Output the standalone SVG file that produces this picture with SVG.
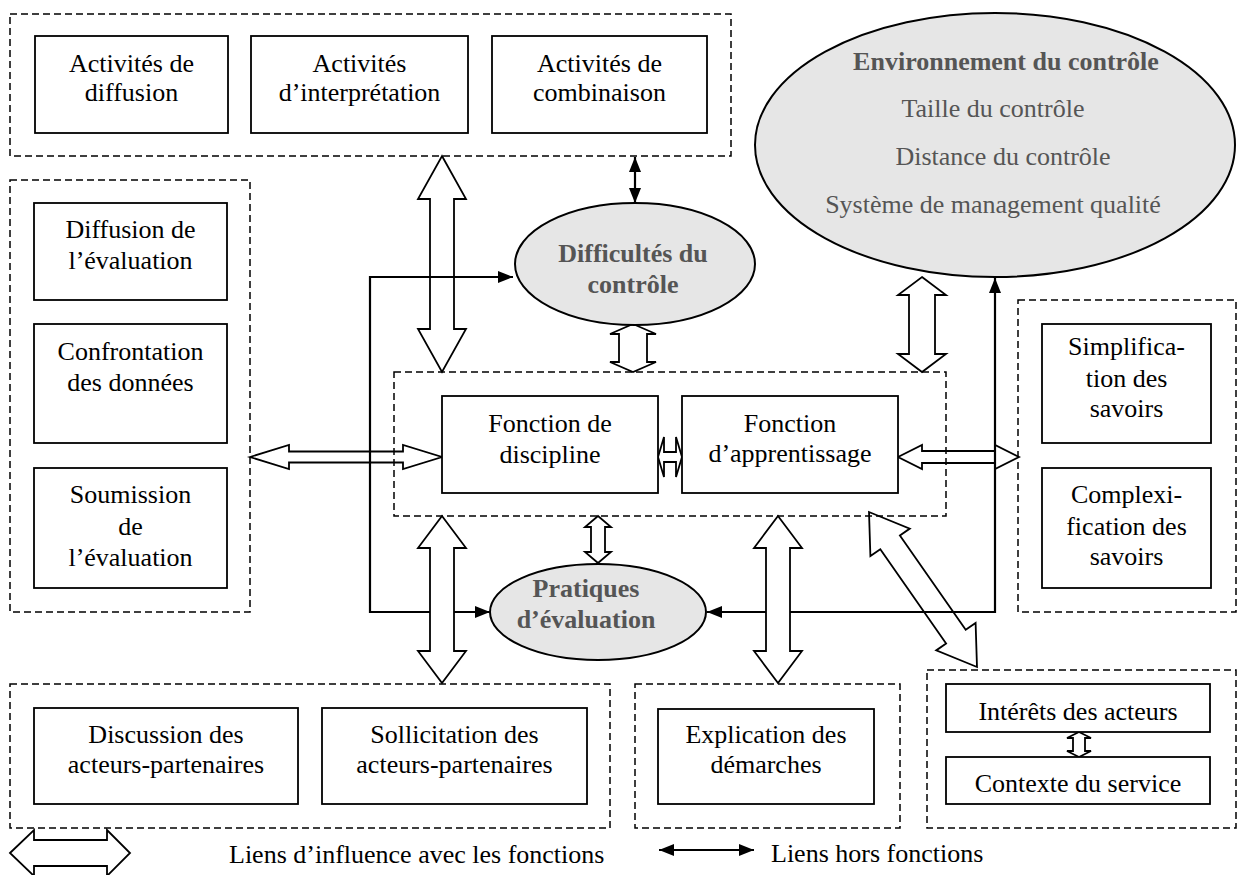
<svg xmlns="http://www.w3.org/2000/svg" width="1239" height="875" viewBox="0 0 1239 875">
<style>
text{font-family:"Liberation Serif","Times New Roman",serif;font-size:26px;fill:#000;text-anchor:middle}
.gt{fill:#555;font-weight:bold}
.gr{fill:#555}
.dash{fill:none;stroke:#000;stroke-width:1.5;stroke-dasharray:7,4}
.box{fill:#fff;stroke:#000;stroke-width:1.8}
.ell{fill:#e6e6e6;stroke:#000;stroke-width:2}
.wa{fill:#fff;stroke:#000;stroke-width:1.8;stroke-linejoin:miter}
.bl{fill:none;stroke:#000;stroke-width:2.2}
</style>
<defs>
<marker id="ah" viewBox="0 0 10 10" refX="10" refY="5" markerWidth="15" markerHeight="12" markerUnits="userSpaceOnUse" orient="auto-start-reverse" preserveAspectRatio="none">
<path d="M0,0 L10,5 L0,10 z" fill="#000"/>
</marker>
</defs>
<rect width="1239" height="875" fill="#fff"/>

<g id="connectors">
<polygon class="wa" points="442,156 466,199 454,199 454,329 466,329 442,372 418,329 430,329 430,199 418,199"/>
<polygon class="wa" points="633,324 656,334 647,334 647,362 656,362 633,372 610,362 619,362 619,334 610,334"/>
<polygon class="wa" points="922,277 946,295 935,295 935,354 946,354 922,372 898,354 909,354 909,295 898,295"/>
<polygon class="wa" points="598,516 611,527 605,527 605,552 611,552 598,563 585,552 591,552 591,527 585,527"/>
<polygon class="wa" points="250,457 289,445 289,451.5 403,451.5 403,445 442,457 403,469 403,462.5 289,462.5 289,469"/>
<polygon class="wa" points="898,457 922,445 922,451 995,451 995,445 1019,457 995,469 995,463 922,463 922,469"/>
<polygon class="wa" points="658,457 664,437 664,452 676,452 676,437 682,457 676,477 676,462 664,462 664,477"/>
<polygon class="wa" points="869,512 870.4,556 880.3,549.2 946.1,643.6 936.2,650.4 977,667 975.6,623 965.7,629.8 899.9,535.4 909.8,528.6"/>
<polygon class="wa" points="1079,732 1091,738 1085,738 1085,751 1091,751 1079,757 1067,751 1073,751 1073,738 1067,738"/>
<path class="bl" d="M635,157 L635,203" marker-start="url(#ah)" marker-end="url(#ah)"/>
<path class="bl" d="M513,277 L370,277 L370,612 L490,612" marker-start="url(#ah)" marker-end="url(#ah)"/>
<path class="bl" d="M995,278 L995,612 L707,612" marker-start="url(#ah)" marker-end="url(#ah)"/>
<polygon class="wa" points="442,516 466,548 454,548 454,651 466,651 442,683 418,651 430,651 430,548 418,548"/>
<polygon class="wa" points="778,516 802,548 790,548 790,651 802,651 778,683 754,651 766,651 766,548 754,548"/>
</g>

<g id="activites">
<rect class="dash" x="10" y="14" width="721" height="142"/>
<rect class="box" x="35" y="36" width="193" height="97"/>
<text x="131.5" y="72">Activités de</text><text x="131.5" y="101">diffusion</text>
<rect class="box" x="251" y="36" width="217" height="97"/>
<text x="359.5" y="72">Activités</text><text x="359.5" y="101">d’interprétation</text>
<rect class="box" x="492" y="36" width="215" height="97"/>
<text x="599.5" y="72">Activités de</text><text x="599.5" y="101">combinaison</text>
</g>

<g id="evaluation-left">
<rect class="dash" x="10" y="180" width="240" height="432"/>
<rect class="box" x="34" y="203" width="193" height="97"/>
<text x="130.5" y="238">Diffusion de</text><text x="130.5" y="269">l’évaluation</text>
<rect class="box" x="34" y="324" width="193" height="119"/>
<text x="130.5" y="360">Confrontation</text><text x="130.5" y="391">des données</text>
<rect class="box" x="34" y="468" width="193" height="120"/>
<text x="130.5" y="503">Soumission</text><text x="130.5" y="535">de</text><text x="130.5" y="566">l’évaluation</text>
</g>

<g id="fonctions">
<rect class="dash" x="394" y="372" width="552" height="144"/>
<rect class="box" x="442" y="396" width="216" height="97"/>
<text x="550" y="432">Fonction de</text><text x="550" y="463">discipline</text>
<rect class="box" x="682" y="396" width="216" height="97"/>
<text x="790" y="432">Fonction</text><text x="790" y="462">d’apprentissage</text>
</g>

<g id="difficultes">
<ellipse class="ell" cx="635" cy="264" rx="120" ry="61"/>
<text class="gt" x="633" y="262">Difficultés du</text><text class="gt" x="633" y="293">contrôle</text>
</g>

<g id="pratiques">
<ellipse class="ell" cx="598" cy="612" rx="108" ry="48"/>
<text class="gt" x="586" y="597">Pratiques</text><text class="gt" x="586" y="628">d’évaluation</text>
</g>

<g id="environnement">
<ellipse class="ell" cx="995" cy="145" rx="240" ry="132"/>
<text class="gt" x="1006" y="70">Environnement du contrôle</text>
<text class="gr" x="993" y="117">Taille du contrôle</text>
<text class="gr" x="1003" y="165">Distance du contrôle</text>
<text class="gr" x="993" y="213">Système de management qualité</text>
</g>

<g id="savoirs">
<rect class="dash" x="1018" y="300" width="218" height="312"/>
<rect class="box" x="1042" y="324" width="169" height="119"/>
<text x="1126.5" y="355">Simplifica-</text><text x="1126.5" y="387">tion des</text><text x="1126.5" y="417">savoirs</text>
<rect class="box" x="1042" y="468" width="169" height="120"/>
<text x="1126.5" y="503">Complexi-</text><text x="1126.5" y="535">fication des</text><text x="1126.5" y="565">savoirs</text>
</g>

<g id="acteurs">
<rect class="dash" x="10" y="684" width="600" height="144"/>
<rect class="box" x="34" y="708" width="264" height="96"/>
<text x="166" y="743">Discussion des</text><text x="166" y="773">acteurs-partenaires</text>
<rect class="box" x="322" y="708" width="265" height="96"/>
<text x="454.5" y="743">Sollicitation des</text><text x="454.5" y="773">acteurs-partenaires</text>
</g>

<g id="explication">
<rect class="dash" x="635" y="684" width="265" height="144"/>
<rect class="box" x="658" y="709" width="216" height="95"/>
<text x="766" y="743">Explication des</text><text x="766" y="773">démarches</text>
</g>

<g id="contexte">
<rect class="dash" x="927" y="670" width="309" height="158"/>
<rect class="box" x="946" y="684" width="264" height="48"/>
<text x="1078" y="720">Intérêts des acteurs</text>
<rect class="box" x="946" y="757" width="264" height="47"/>
<text x="1078" y="792">Contexte du service</text>
</g>

<g id="legende">
<polygon class="wa" points="10,853 34,830 34,840 107,840 107,830 130,853 107,876 107,866 34,866 34,876"/>
<text x="229" y="863" style="text-anchor:start">Liens d’influence avec les fonctions</text>
<path class="bl" d="M659,850 L754,850" marker-start="url(#ah)" marker-end="url(#ah)"/>
<text x="771" y="862" style="text-anchor:start">Liens hors fonctions</text>
</g>
</svg>
